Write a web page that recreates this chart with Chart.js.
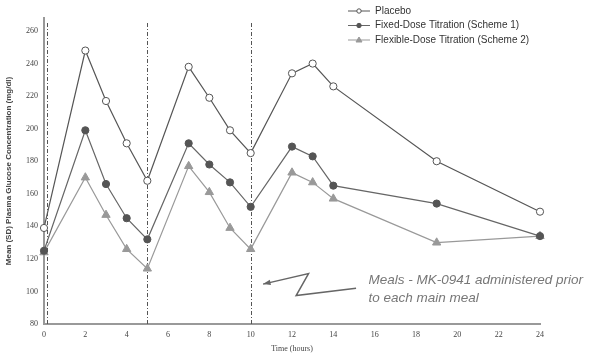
<!DOCTYPE html>
<html>
<head>
<meta charset="utf-8">
<script src="https://cdn.jsdelivr.net/npm/chart.js@4.4.1/dist/chart.umd.min.js"></script>
<style>
  html, body { margin: 0; padding: 0; background: #fff; }
  #wrap { position: relative; width: 590px; height: 358px; }
</style>
</head>
<body>
<div id="wrap"><canvas id="chart" width="590" height="358"></canvas></div>
<script>
// Time points (hours) and mean glucose values (mg/dl)
const placeboTimes = [0, 2, 3, 4, 5, 7, 8, 9, 10, 12, 13, 14, 19, 24];
const placeboValues = [139, 248, 217, 191, 168, 238, 219, 199, 185, 234, 240, 226, 180, 149];

const fixedTimes = [0, 2, 3, 4, 5, 7, 8, 9, 10, 12, 13, 14, 19, 24];
const fixedValues = [125, 199, 166, 145, 132, 191, 178, 167, 152, 189, 183, 165, 154, 134];

const flexTimes = [0, 2, 3, 4, 5, 7, 8, 9, 10, 12, 13, 14, 19, 24];
const flexValues = [124, 170, 147, 126, 114, 177, 161, 139, 126, 173, 167, 157, 130, 134];

const seriesNames = ['Placebo', 'Fixed-Dose Titration (Scheme 1)', 'Flexible-Dose Titration (Scheme 2)'];
const mealTimes = [0.15, 5, 10];
const xTicks = [0, 2, 4, 6, 8, 10, 12, 14, 16, 18, 20, 22, 24];
const yTicks = [80, 100, 120, 140, 160, 180, 200, 220, 240, 260];
const noteLines = ['Meals - MK-0941 administered prior', 'to each main meal'];

function pts(xs, ys) {
    return xs.map((x, i) => ({ x: x, y: ys[i] }));
}

// vertical meal lines, annotation and legend
const extras = {
    id: 'extras',
    beforeDatasetsDraw(chart) {
        const ctx = chart.ctx;
        const x = chart.scales.x;
        ctx.save();
        ctx.strokeStyle = '#555';
        ctx.lineWidth = 1;
        ctx.setLineDash([4, 2, 1, 2]);
        mealTimes.forEach(t => {
            const px = Math.round(x.getPixelForValue(t)) + 0.5;
            ctx.beginPath();
            ctx.moveTo(px, chart.chartArea.top + 5);
            ctx.lineTo(px, chart.chartArea.bottom);
            ctx.stroke();
        });
        ctx.restore();
    },
    afterDraw(chart) {
        const ctx = chart.ctx;
        const x = chart.scales.x, y = chart.scales.y;
        ctx.save();
        // note text
        ctx.fillStyle = '#777';
        ctx.font = 'italic 13.5px "Liberation Sans", Arial, sans-serif';
        ctx.textBaseline = 'middle';
        ctx.fillText(noteLines[0], x.getPixelForValue(15.7), y.getPixelForValue(107));
        ctx.fillText(noteLines[1], x.getPixelForValue(15.7), y.getPixelForValue(96));
        // squiggle arrow
        const p = (t, v) => [x.getPixelForValue(t), y.getPixelForValue(v)];
        const path = [p(15.1, 102), p(12.2, 97.5), p(12.8, 111), p(10.6, 104.5)];
        ctx.strokeStyle = '#666';
        ctx.lineWidth = 1.5;
        ctx.beginPath();
        ctx.moveTo(path[0][0], path[0][1]);
        for (let i = 1; i < path.length; i++) ctx.lineTo(path[i][0], path[i][1]);
        ctx.stroke();
        const tip = path[3], prev = path[2];
        const ang = Math.atan2(tip[1] - prev[1], tip[0] - prev[0]);
        ctx.fillStyle = '#666';
        ctx.beginPath();
        ctx.moveTo(tip[0], tip[1]);
        ctx.lineTo(tip[0] - 8 * Math.cos(ang - 0.35), tip[1] - 8 * Math.sin(ang - 0.35));
        ctx.lineTo(tip[0] - 8 * Math.cos(ang + 0.35), tip[1] - 8 * Math.sin(ang + 0.35));
        ctx.closePath();
        ctx.fill();

        // legend
        ctx.font = '10px "Liberation Sans", Arial, sans-serif';
        ctx.textBaseline = 'middle';
        chart.data.datasets.forEach((ds, i) => {
            const ly = 11 + i * 14.5;
            const lx = 348;
            ctx.strokeStyle = ds.borderColor;
            ctx.lineWidth = 1;
            ctx.setLineDash([]);
            ctx.beginPath();
            ctx.moveTo(lx, ly);
            ctx.lineTo(lx + 22, ly);
            ctx.stroke();
            ctx.fillStyle = ds.pointBackgroundColor;
            ctx.strokeStyle = ds.pointBorderColor;
            ctx.beginPath();
            if (ds.pointStyle === 'triangle') {
                ctx.moveTo(lx + 11, ly - 3);
                ctx.lineTo(lx + 14, ly + 2);
                ctx.lineTo(lx + 8, ly + 2);
                ctx.closePath();
            } else {
                ctx.arc(lx + 11, ly, 2.2, 0, Math.PI * 2);
            }
            ctx.fill();
            ctx.stroke();
            ctx.fillStyle = '#333';
            ctx.fillText(ds.label, lx + 27, ly);
        });
        ctx.restore();
    }
};

new Chart(document.getElementById('chart'), {
    type: 'line',
    data: {
        datasets: [
            {
                label: seriesNames[0],
                data: pts(placeboTimes, placeboValues),
                borderColor: '#555',
                borderWidth: 1.2,
                pointStyle: 'circle',
                pointRadius: 3.6,
                pointBackgroundColor: '#fff',
                pointBorderColor: '#555',
                pointBorderWidth: 1,
                clip: false
            },
            {
                label: seriesNames[1],
                data: pts(fixedTimes, fixedValues),
                borderColor: '#666',
                borderWidth: 1.2,
                pointStyle: 'circle',
                pointRadius: 3.6,
                pointBackgroundColor: '#555',
                pointBorderColor: '#555',
                pointBorderWidth: 1,
                clip: false
            },
            {
                label: seriesNames[2],
                data: pts(flexTimes, flexValues),
                borderColor: '#999',
                borderWidth: 1.2,
                pointStyle: 'triangle',
                pointRadius: 4.8,
                pointBackgroundColor: '#999',
                pointBorderColor: '#999',
                pointBorderWidth: 1,
                clip: false
            }
        ]
    },
    options: {
        responsive: false,
        animation: false,
        layout: { padding: { top: 18, right: 50, left: 0, bottom: 0 } },
        plugins: {
            legend: { display: false },
            tooltip: { enabled: false }
        },
        scales: {
            x: {
                type: 'linear',
                min: 0,
                max: 24,
                afterBuildTicks: axis => { axis.ticks = xTicks.map(v => ({ value: v })); },
                afterFit: axis => { axis.height = 34; },
                grid: { display: false, drawOnChartArea: false, drawTicks: true, tickLength: 3, color: '#777' },
                border: { color: '#999', width: 2 },
                ticks: { color: '#444', font: { size: 8, family: 'Liberation Serif' }, padding: 3, maxRotation: 0 },
                title: { display: true, text: 'Time (hours)', color: '#444', font: { size: 8, family: 'Liberation Serif' }, padding: { top: 4 } }
            },
            y: {
                type: 'linear',
                min: 80,
                max: 268,
                afterBuildTicks: axis => { axis.ticks = yTicks.map(v => ({ value: v })); },
                afterFit: axis => { axis.width = 44; },
                grid: { display: false, drawOnChartArea: false, drawTicks: true, tickLength: 3, color: '#777' },
                border: { color: '#999', width: 2 },
                ticks: { color: '#444', font: { size: 8, family: 'Liberation Serif' }, padding: 3 },
                title: { display: true, text: 'Mean (SD) Plasma Glucose Concentration (mg/dl)', color: '#444', font: { size: 8, family: 'Liberation Sans', weight: 'bold' }, padding: { bottom: 8 } }
            }
        }
    },
    plugins: [extras]
});
</script>
</body>
</html>
